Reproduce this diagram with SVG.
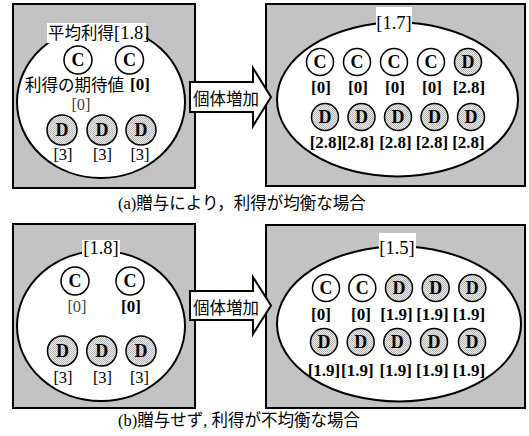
<svg xmlns="http://www.w3.org/2000/svg" width="529" height="436" viewBox="0 0 529 436">
<defs>
<pattern id="dots" width="2" height="2" patternUnits="userSpaceOnUse">
<rect width="2" height="2" fill="#eeeeee"/>
<rect width="1" height="1" fill="#b6b6b6"/>
<rect x="1" y="1" width="1" height="1" fill="#b6b6b6"/>
</pattern>
</defs>
<style>
.panel{fill:#c3c3c3;stroke:#000;stroke-width:2}
.ell{fill:#fff;stroke:#000;stroke-width:2}
.lbox{fill:#fff}
.c{fill:#fff;stroke:#000;stroke-width:1.5}
.d{fill:url(#dots);stroke:#000;stroke-width:1.5}
.cl{font-family:"Liberation Serif",serif;font-weight:bold;font-size:18px;text-anchor:middle}
.v{font-family:"Liberation Serif",serif;font-weight:bold;font-size:17px;text-anchor:middle}
.vr{font-family:"Liberation Serif",serif;font-size:16.5px;text-anchor:middle}
.g{fill:#444}
.top{font-family:"Liberation Serif",serif;font-size:18.5px;text-anchor:middle}
.jp{font-family:"Noto Sans CJK JP","Liberation Sans",sans-serif;font-size:16.5px}
.cap{font-family:"Liberation Serif","Noto Sans CJK JP",serif;font-size:16.5px}
.arrow{fill:#fff;stroke:#000;stroke-width:2}
</style>

<!-- Panel a left -->
<g id="panel-a-before">
<rect class="panel" x="13" y="4" width="182" height="184"/>
<ellipse class="ell" cx="101" cy="102" rx="84" ry="76"/>
<rect class="lbox" x="47" y="23" width="99" height="20"/>
<text x="48" y="39"><tspan class="jp">平均利得</tspan><tspan font-family="Liberation Serif,serif" font-size="18.5px">[1.8]</tspan></text>
<circle class="c" cx="78" cy="60" r="14"/><text class="cl" x="78" y="66">C</text>
<circle class="c" cx="129.5" cy="60" r="14"/><text class="cl" x="129.5" y="66">C</text>
<text class="jp" x="25" y="91">利得の期待値</text>
<text class="v" x="140" y="90">[0]</text>
<text class="vr g" x="81" y="110">[0]</text>
<circle class="d" cx="62" cy="130" r="15"/><text class="cl" x="62" y="136">D</text>
<circle class="d" cx="102" cy="130" r="15"/><text class="cl" x="102" y="136">D</text>
<circle class="d" cx="141" cy="130" r="15"/><text class="cl" x="141" y="136">D</text>
<text class="vr" x="63" y="160">[3]</text>
<text class="vr" x="102.5" y="160">[3]</text>
<text class="vr" x="140" y="160">[3]</text>
</g>

<!-- Panel a right -->
<g id="panel-a-after">
<rect class="panel" x="266" y="4" width="259" height="182"/>
<ellipse class="ell" cx="397.5" cy="99.5" rx="120.5" ry="77"/>
<rect class="lbox" x="376" y="7" width="36" height="25"/>
<text class="top" x="394" y="29">[1.7]</text>
<circle class="c" cx="320" cy="62" r="13.5"/><text class="cl" x="320" y="68">C</text>
<circle class="c" cx="357" cy="62" r="13.5"/><text class="cl" x="357" y="68">C</text>
<circle class="c" cx="394" cy="62" r="13.5"/><text class="cl" x="394" y="68">C</text>
<circle class="c" cx="431" cy="62" r="13.5"/><text class="cl" x="431" y="68">C</text>
<circle class="d" cx="468" cy="62" r="13.5"/><text class="cl" x="468" y="68">D</text>
<text class="v" x="321" y="93">[0]</text>
<text class="v" x="358" y="93">[0]</text>
<text class="v" x="395" y="93">[0]</text>
<text class="v" x="432" y="93">[0]</text>
<text class="v" x="469" y="93">[2.8]</text>
<circle class="d" cx="325" cy="117" r="13.5"/><text class="cl" x="325" y="123">D</text>
<circle class="d" cx="361.5" cy="117" r="13.5"/><text class="cl" x="361.5" y="123">D</text>
<circle class="d" cx="398" cy="117" r="13.5"/><text class="cl" x="398" y="123">D</text>
<circle class="d" cx="434.5" cy="117" r="13.5"/><text class="cl" x="434.5" y="123">D</text>
<circle class="d" cx="471" cy="117" r="13.5"/><text class="cl" x="471" y="123">D</text>
<text class="v" x="326" y="148">[2.8]</text>
<text class="v" x="358" y="148">[2.8]</text>
<text class="v" x="395.5" y="148">[2.8]</text>
<text class="v" x="432" y="148">[2.8]</text>
<text class="v" x="468.5" y="148">[2.8]</text>
</g>

<!-- Panel b left -->
<g id="panel-b-before">
<rect class="panel" x="13" y="224" width="182" height="184"/>
<ellipse class="ell" cx="101" cy="326" rx="84" ry="75"/>
<rect class="lbox" x="82" y="240" width="38" height="17"/>
<text class="top" x="101" y="254">[1.8]</text>
<circle class="c" cx="75" cy="281" r="14"/><text class="cl" x="75" y="287">C</text>
<circle class="c" cx="130" cy="281" r="14"/><text class="cl" x="130" y="287">C</text>
<text class="vr g" x="77" y="312">[0]</text>
<text class="v" x="131" y="312">[0]</text>
<circle class="d" cx="62.5" cy="351" r="15"/><text class="cl" x="62.5" y="357">D</text>
<circle class="d" cx="101.7" cy="351" r="15"/><text class="cl" x="101.7" y="357">D</text>
<circle class="d" cx="141" cy="351" r="15"/><text class="cl" x="141" y="357">D</text>
<text class="vr" x="63" y="383">[3]</text>
<text class="vr" x="102.5" y="383">[3]</text>
<text class="vr" x="139.5" y="383">[3]</text>
</g>

<!-- Panel b right -->
<g id="panel-b-after">
<rect class="panel" x="266" y="225" width="259" height="183"/>
<ellipse class="ell" cx="399" cy="324" rx="122" ry="77.5"/>
<rect class="lbox" x="379" y="233" width="37" height="22"/>
<text class="top" x="397" y="254">[1.5]</text>
<circle class="c" cx="326" cy="288" r="13.5"/><text class="cl" x="326" y="294">C</text>
<circle class="c" cx="362.3" cy="288" r="13.5"/><text class="cl" x="362.3" y="294">C</text>
<circle class="d" cx="399" cy="288" r="13.5"/><text class="cl" x="399" y="294">D</text>
<circle class="d" cx="435.7" cy="288" r="13.5"/><text class="cl" x="435.7" y="294">D</text>
<circle class="d" cx="472.3" cy="288" r="13.5"/><text class="cl" x="472.3" y="294">D</text>
<text class="v" x="321" y="320">[0]</text>
<text class="v" x="361" y="320">[0]</text>
<text class="v" x="396.5" y="320">[1.9]</text>
<text class="v" x="432.5" y="320">[1.9]</text>
<text class="v" x="469" y="320">[1.9]</text>
<circle class="d" cx="324" cy="342" r="13.5"/><text class="cl" x="324" y="348">D</text>
<circle class="d" cx="360.7" cy="342" r="13.5"/><text class="cl" x="360.7" y="348">D</text>
<circle class="d" cx="397.3" cy="342" r="13.5"/><text class="cl" x="397.3" y="348">D</text>
<circle class="d" cx="434" cy="342" r="13.5"/><text class="cl" x="434" y="348">D</text>
<circle class="d" cx="472" cy="342" r="13.5"/><text class="cl" x="472" y="348">D</text>
<text class="v" x="324" y="376">[1.9]</text>
<text class="v" x="357.3" y="376">[1.9]</text>
<text class="v" x="395.7" y="376">[1.9]</text>
<text class="v" x="432.3" y="376">[1.9]</text>
<text class="v" x="469" y="376">[1.9]</text>
</g>

<!-- Connectors -->
<g id="connectors">
<g id="arrow-a">
<path class="arrow" d="M190,82 H253 V68 L271,97 L253,126 V112 H190 Z"/>
<text class="jp" x="193" y="105">個体増加</text>
</g>
<g id="arrow-b">
<path class="arrow" d="M190,291 H253 V277 L271,305.5 L253,334 V320 H190 Z"/>
<text class="jp" x="193" y="314">個体増加</text>
</g>
</g>

<!-- Captions -->
<text class="cap" x="118" y="209">(a)贈与により，利得が均衡な場合</text>
<text class="cap" x="118" y="426">(b)贈与せず, 利得が不均衡な場合</text>
</svg>
